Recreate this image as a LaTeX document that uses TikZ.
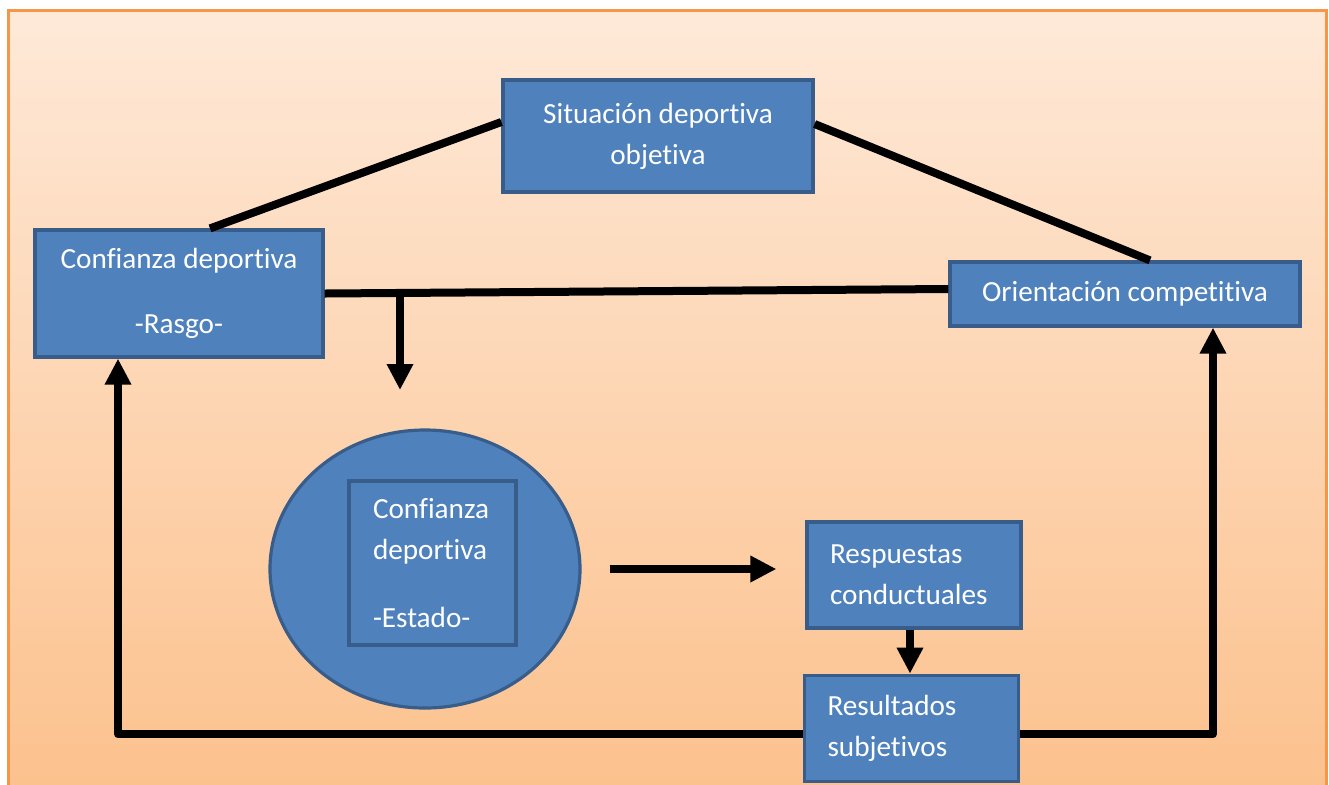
\documentclass[tikz,border=0pt]{standalone}
\usepackage{fontspec}
\setmainfont{Carlito}[Ligatures=NoCommon]
\usepackage{xcolor}
\usepackage{tikz}
\usetikzlibrary{positioning,arrows.meta,shapes.geometric}

\definecolor{cajaazul}{RGB}{79,129,189}
\definecolor{bordeazul}{RGB}{56,93,138}
\definecolor{fondoarriba}{RGB}{254,233,216}
\definecolor{fondoabajo}{RGB}{252,193,141}
\definecolor{marco}{RGB}{247,150,70}

\begin{document}
\begin{tikzpicture}[
  x=0.5pt, y=-0.5pt,
  font=\fontsize{14.6}{20.5}\selectfont,
  bloque/.style = {rectangle, fill=cajaazul, draw=bordeazul, line width=1.6pt,
    text=white, inner sep=0pt, align=center},
  bloqueizq/.style = {bloque, align=left, inner xsep=11.5pt},
  linea/.style  = {line width=4pt, draw=black, line join=round},
  flecha/.style = {linea, -{Triangle[length=13pt,width=12.5pt]}},
  node distance=22pt,
]
  \useasboundingbox (0,0) rectangle (1329,784);
  \shade[top color=fondoarriba, bottom color=fondoabajo, draw=marco, line width=1.5pt]
    (8,10) rectangle (1326,792);

  \node[bloque, minimum width=155pt, minimum height=56pt] (sit) at (658,136)
    {Situación deportiva\\objetiva};
  \node[bloque, minimum width=144pt, minimum height=63.5pt] (rasgo) at (179,293.5)
    {Confianza deportiva\\[12pt]-Rasgo-};
  \node[bloque, minimum width=175pt, minimum height=32pt] (orient) at (1125,294)
    {Orientación competitiva};
  \node[ellipse, fill=cajaazul, draw=bordeazul, line width=1.6pt,
    minimum width=155pt, minimum height=139pt, inner sep=0pt] (elipse) at (425,569) {};
  \node[bloqueizq, text width=59.5pt, inner xsep=12pt, minimum height=82pt] (estado) at (432.5,563)
    {Confianza\\deportiva\\[13.5pt]-Estado-};
  \node[bloqueizq, text width=84pt, minimum height=53pt] (resp) at (914,575)
    {Respuestas\\conductuales};
  \node[bloqueizq, text width=84pt, minimum height=53pt, below=22pt of resp.south, anchor=north,
    xshift=-1.25pt] (result) {Resultados\\subjetivos};

  % lineas sin flecha
  \draw[linea] ([yshift=7pt]sit.west) -- ([xshift=15.5pt]rasgo.north);
  \draw[linea] ([yshift=6pt]sit.east) -- ([xshift=12.5pt]orient.north);
  \draw[linea] (rasgo.east) -- ([yshift=2.5pt]orient.west);

  \coordinate (rama) at (400,293);
  \coordinate (punta) at (400,390);
  \draw[flecha] (rama) -- (punta);
  \draw[flecha, shorten <=14pt, shorten >=14.5pt] (elipse.east) -- (elipse.east -| resp.west);
  \draw[flecha] ([xshift=-2pt]resp.south) -- ([xshift=-2pt]resp.south |- result.north);

  % retroalimentacion
  \draw[flecha] ([yshift=-3pt]result.west) -| ([xshift=-30.5pt]rasgo.south);
  \draw[flecha] ([yshift=-3pt]result.east) -| ([xshift=44pt]orient.south);
\end{tikzpicture}
\end{document}
